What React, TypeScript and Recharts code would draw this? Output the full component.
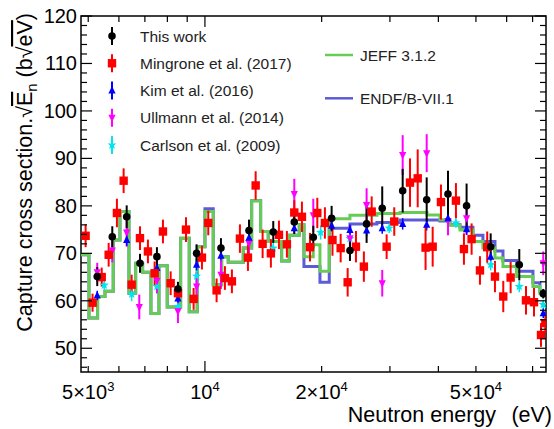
import React from 'react'
import { ComposedChart, Scatter, Line, XAxis, YAxis, ErrorBar, ReferenceArea, Legend } from 'recharts'

const FONT = '"Liberation Sans", Arial, Helvetica, sans-serif'
const PLOT_W = 465
const PLOT_H = 356

// This work (black circles)
const thisWorkE = [5275, 5768, 6283, 6799, 7519, 8519, 9517, 10998, 12990, 15004, 17000, 19030, 21220, 23660, 26120, 28660, 32360, 37320, 42350, 47300, 54570, 64680, 74570]
const thisWorkY = [65.1, 73.5, 77.7, 67.9, 69.3, 62.5, 70.0, 71.1, 74.8, 74.5, 76.6, 73.4, 77.4, 70.6, 76.2, 79.5, 83.2, 81.3, 82.5, 80.0, 71.4, 67.6, 61.5]
const thisWorkErr = [2.0, 2.2, 2.4, 2.0, 2.0, 1.5, 1.9, 2.1, 2.3, 2.3, 2.5, 2.4, 2.6, 2.2, 4.0, 4.6, 4.6, 4.7, 4.9, 4.7, 2.8, 3.3, 1.0]

// Mingrone et al. (2017) (red squares)
const mingroneE = [4923, 5131, 5417, 5645, 5929, 6170, 6471, 6799, 7128, 7417, 7793, 8158, 8519, 8935, 9350, 9824, 10200, 10717, 11260, 11737, 12310, 12910, 13515, 14085, 14794, 15520, 16270, 17000, 17790, 18660, 19490, 20390, 21330, 22390, 23340, 24520, 25700, 26920, 29420, 30780, 33800, 35380, 37070, 38670, 40620, 44400, 46560, 48730, 51210, 53460, 55980, 58810, 61440, 67300, 70580, 73590, 75500]
const mingroneY = [73.7, 59.6, 65.0, 69.7, 78.5, 85.3, 63.4, 73.2, 70.4, 65.8, 74.6, 63.7, 61.6, 75.0, 60.4, 69.1, 76.4, 62.2, 64.8, 64.1, 73.1, 69.1, 84.3, 72.0, 70.0, 73.9, 71.9, 78.6, 77.7, 71.3, 78.5, 76.4, 72.8, 71.1, 63.9, 71.4, 67.2, 78.8, 71.4, 76.7, 84.9, 85.8, 71.2, 71.4, 80.8, 81.1, 70.9, 73.0, 66.4, 71.3, 65.1, 60.9, 64.9, 60.1, 59.7, 52.8, 55.3]
const mingroneErr = [2.4, 1.9, 2.0, 2.5, 3.0, 2.6, 2.1, 2.5, 2.5, 2.5, 2.5, 2.5, 1.4, 2.6, 2.3, 2.5, 2.6, 2.5, 2.5, 2.5, 3.0, 2.8, 3.0, 3.0, 3.0, 3.0, 2.8, 2.6, 3.2, 3.0, 3.2, 3.3, 3.3, 3.0, 3.0, 3.3, 3.2, 3.2, 2.6, 3.0, 5.1, 6.1, 4.7, 4.2, 3.7, 3.7, 3.3, 3.3, 3.0, 3.3, 3.3, 3.3, 3.3, 3.0, 3.0, 2.5, 2.0]

// Kim et al. (2016) (blue triangles)
const kimE = [5275, 6283, 7519, 8519, 9517, 10998, 12990, 17000, 21220, 23660, 26120, 28660, 32360, 37320, 42350, 47300, 54570, 74570]
const kimY = [61.1, 72.8, 66.9, 60.5, 67.6, 69.5, 73.3, 75.3, 75.8, 74.9, 74.8, 75.3, 76.2, 76.0, 77.4, 75.1, 69.3, 57.4]
const kimErr = [1.0, 1.2, 1.0, 1.0, 1.2, 1.0, 1.2, 1.2, 1.2, 1.2, 1.2, 1.2, 1.2, 1.2, 1.2, 1.2, 1.0, 1.0]

// Ullmann et al. (2014) (magenta down triangles)
const ullmannE = [5275, 5768, 6283, 6771, 7519, 8519, 9517, 10998, 12990, 17000, 19030, 23660, 26120, 28660, 32360, 37320, 42350, 47300, 74570]
const ullmannY = [66.0, 70.6, 74.4, 58.7, 64.2, 57.8, 63.0, 65.5, 72.1, 82.5, 78.0, 73.2, 80.2, 63.7, 90.7, 91.1, 76.8, 77.4, 67.9]
const ullmannErr = [2.0, 2.5, 3.0, 2.6, 2.6, 2.5, 3.0, 3.0, 2.8, 3.2, 3.5, 2.8, 3.5, 2.8, 4.2, 4.0, 3.0, 3.5, 2.5]

// Carlson et al. (2009) (cyan stars)
const carlsonE = [5500, 6471, 7519, 8519, 9517, 15004, 19880, 23660, 29880, 44400, 54570, 64680, 74570]
const carlsonY = [63.3, 61.4, 63.0, 58.8, 65.2, 71.1, 74.4, 73.1, 75.3, 76.4, 67.6, 63.0, 59.2]
const carlsonErr = [1.0, 1.5, 1.5, 1.5, 1.5, 1.5, 1.5, 1.5, 1.0, 1.0, 1.2, 1.2, 1.0]

// evaluated libraries, bin lower edges (last entry closes the range)
const binE = [4788, 5022, 5287, 5523, 5800, 6036, 6368, 6627, 6907, 7256, 7610, 7994, 8656, 9110, 9553, 10000, 10505, 11043, 11484, 12555, 13198, 13921, 14564, 15771, 16498, 17509, 18004, 19026, 19800, 20923, 23660, 27770, 31840, 37380, 40370, 42840, 45480, 49120, 52120, 55980, 58710, 63680, 70150, 73110, 75800]
const jeffY = [69.7, 56.4, 60.9, 62.0, 72.8, 78.8, 61.6, 67.9, 66.0, 57.3, 67.4, 58.7, 73.2, 57.7, 71.4, 78.8, 63.4, 69.3, 68.1, 71.1, 81.1, 74.6, 72.5, 68.4, 73.8, 76.0, 69.3, 71.8, 66.2, 77.3, 78.0, 78.4, 78.6, 78.1, 77.1, 75.9, 74.9, 72.5, 71.1, 69.0, 67.2, 65.1, 63.0, 61.6, 61.6]
const endfY = [69.7, 56.4, 60.9, 62.0, 72.8, 78.8, 61.6, 67.9, 66.0, 57.3, 67.4, 58.7, 73.2, 57.7, 71.4, 79.4, 63.4, 69.3, 68.1, 71.1, 81.1, 74.6, 72.5, 68.4, 73.8, 76.0, 67.2, 67.2, 63.9, 75.3, 76.2, 76.5, 77.0, 77.0, 76.8, 76.0, 75.5, 73.8, 72.5, 70.5, 68.5, 66.2, 63.8, 62.0, 62.0]

// axes
const xTicks = [5000, 6000, 7000, 8000, 9000, 10000, 20000, 30000, 40000, 50000, 60000, 70000]
const xLabelValues = [5000, 10000, 20000, 50000]
const xLabelBase = ['5×10', '10', '2×10', '5×10']
const xLabelExp = ['3', '4', '4', '4']
const yTicks = [46, 48, 50, 52, 54, 56, 58, 60, 62, 64, 66, 68, 70, 72, 74, 76, 78, 80, 82, 84, 86, 88, 90, 92, 94, 96, 98, 100, 102, 104, 106, 108, 110, 112, 114, 116, 118, 120]

const legendNames = ['This work', 'Mingrone et al. (2017)', 'Kim et al. (2016)', 'Ullmann et al. (2014)', 'Carlson et al. (2009)']
const legendKinds = ['circle', 'square', 'up', 'down', 'star']
const legendColors = ['#000000', '#ff0000', '#0000ff', '#ff00ff', '#00e5ee']
const modelNames = ['JEFF 3.1.2', 'ENDF/B-VII.1']
const modelColors = ['#66cc55', '#5c5cd6']

const toPoints = (e: number[], y: number[], err: number[]) => e.map((v, i) => ({ e: v, y: y[i], err: err[i] }))
const toBins = (e: number[], y: number[]) => e.map((v, i) => ({ e: v, y: y[i] }))

const thisWork = toPoints(thisWorkE, thisWorkY, thisWorkErr)
const mingrone = toPoints(mingroneE, mingroneY, mingroneErr)
const kim = toPoints(kimE, kimY, kimErr)
const ullmann = toPoints(ullmannE, ullmannY, ullmannErr)
const carlson = toPoints(carlsonE, carlsonY, carlsonErr)
const jeff = toBins(binE, jeffY)
const endf = toBins(binE, endfY)

function marker(kind: string, cx: number, cy: number, color: string) {
  if (cx == null || cy == null) return <g />
  switch (kind) {
    case 'square':
      return <rect x={cx - 4.2} y={cy - 4.2} width={8.4} height={8.4} fill={color} />
    case 'up':
      return <polygon points={`${cx},${cy - 4.5} ${cx - 3.6},${cy + 3} ${cx + 3.6},${cy + 3}`} fill={color} />
    case 'down':
      return <polygon points={`${cx},${cy + 4.5} ${cx - 3.6},${cy - 3} ${cx + 3.6},${cy - 3}`} fill={color} />
    case 'star': {
      const pts: string[] = []
      for (let k = 0; k < 10; k++) {
        const r = k % 2 === 0 ? 4.8 : 2
        const a = -Math.PI / 2 + (k * Math.PI) / 5
        pts.push(`${cx + r * Math.cos(a)},${cy + r * Math.sin(a)}`)
      }
      return <polygon points={pts.join(' ')} fill={color} />
    }
    default:
      return <circle cx={cx} cy={cy} r={3.8} fill={color} />
  }
}

const XTick = (props: any) => {
  const { x, y, payload } = props
  const v = payload.value
  const len = v === 10000 ? 11 : 6
  const idx = xLabelValues.indexOf(v)
  return (
    <g>
      <line x1={x} x2={x} y1={y} y2={y - len} stroke="#000" strokeWidth={1.2} />
      <line x1={x} x2={x} y1={y - PLOT_H} y2={y - PLOT_H + len} stroke="#000" strokeWidth={1.2} />
      {idx >= 0 && (
        <text x={x} y={y + 27} textAnchor="middle" fontSize={20} fontFamily={FONT} fill="#000">
          {xLabelBase[idx]}
          <tspan dy={-8} fontSize={13}>{xLabelExp[idx]}</tspan>
        </text>
      )}
    </g>
  )
}

const YTick = (props: any) => {
  const { x, y, payload } = props
  const v = payload.value
  const major = v % 10 === 0
  const len = major ? 11 : 6
  return (
    <g>
      <line x1={x} x2={x + len} y1={y} y2={y} stroke="#000" strokeWidth={1.2} />
      <line x1={x + PLOT_W} x2={x + PLOT_W - len} y1={y} y2={y} stroke="#000" strokeWidth={1.2} />
      {major && (
        <text x={x - 4} y={y + 7} textAnchor="end" fontSize={20} fontFamily={FONT} fill="#000">
          {v}
        </text>
      )}
    </g>
  )
}

const XTitle = (props: any) => {
  const vb = props.viewBox || { x: 81, y: 372, width: PLOT_W }
  const right = vb.x + vb.width
  return (
    <g fontFamily={FONT} fontSize={21.5} fill="#000">
      <text x={right - 50} y={vb.y + 50} textAnchor="end">Neutron energy</text>
      <text x={right + 6} y={vb.y + 50} textAnchor="end">(eV)</text>
    </g>
  )
}

const YTitle = () => {
  const ax = 32
  const ay = 13
  return (
    <text
      x={ax}
      y={ay}
      transform={`rotate(-90, ${ax}, ${ay})`}
      textAnchor="end"
      fontFamily={FONT}
      fontSize={21.5}
      fill="#000"
    >
      Capture cross section.√<tspan textDecoration="overline">E</tspan>
      <tspan dy={5} fontSize={15}>n</tspan>
      <tspan dy={-5}> (b√</tspan>
      <tspan textDecoration="overline">eV</tspan>)
    </text>
  )
}

const renderLegend = () => (
  <svg width={554} height={170} style={{ overflow: 'visible' }}>
    {legendNames.map((name, i) => {
      const y = 36 + i * 27.25
      return (
        <g key={name}>
          <line x1={112} x2={112} y1={y - 9} y2={y + 9} stroke={legendColors[i]} strokeWidth={2} />
          {marker(legendKinds[i], 112, y, legendColors[i])}
          <text x={140} y={y + 5.5} fontSize={15.5} fontFamily={FONT} fill="#222">{name}</text>
        </g>
      )
    })}
    {modelNames.map((name, i) => {
      const y = 55 + i * 43.3
      return (
        <g key={name}>
          <line x1={325} x2={353} y1={y} y2={y} stroke={modelColors[i]} strokeWidth={2.5} />
          <text x={360} y={y + 5.5} fontSize={15.5} fontFamily={FONT} fill="#222">{name}</text>
        </g>
      )
    })}
  </svg>
)

export default function App() {
  return (
    <div style={{ position: 'absolute', left: 0, top: 0, background: '#fff' }}>
      <ComposedChart width={554} height={429} margin={{ top: 16, right: 8, bottom: 17, left: 0 }}>
        <XAxis
          dataKey="e"
          type="number"
          scale="log"
          domain={[4790, 75800]}
          allowDataOverflow
          ticks={xTicks}
          interval={0}
          height={40}
          tickSize={0}
          tickMargin={0}
          axisLine={false}
          tickLine={false}
          tick={<XTick />}
          label={<XTitle />}
        />
        <YAxis
          dataKey="y"
          type="number"
          domain={[45, 120]}
          allowDataOverflow
          ticks={yTicks}
          interval={0}
          width={81}
          tickSize={0}
          tickMargin={0}
          axisLine={false}
          tickLine={false}
          tick={<YTick />}
          label={<YTitle />}
        />
        <Legend
          layout="horizontal"
          verticalAlign="middle"
          align="center"
          content={renderLegend}
          wrapperStyle={{ position: 'absolute', left: 0, top: 0, width: 554, height: 170, pointerEvents: 'none' }}
        />
        <Line data={endf} dataKey="y" type="stepAfter" stroke={modelColors[1]} strokeWidth={3} dot={false} isAnimationActive={false} />
        <Line data={jeff} dataKey="y" type="stepAfter" stroke={modelColors[0]} strokeWidth={3} dot={false} isAnimationActive={false} />
        <Scatter data={carlson} dataKey="y" isAnimationActive={false} shape={(p: any) => marker('star', p.cx, p.cy, legendColors[4])}>
          <ErrorBar dataKey="err" direction="y" width={0} stroke={legendColors[4]} strokeWidth={1.5} />
        </Scatter>
        <Scatter data={ullmann} dataKey="y" isAnimationActive={false} shape={(p: any) => marker('down', p.cx, p.cy, legendColors[3])}>
          <ErrorBar dataKey="err" direction="y" width={0} stroke={legendColors[3]} strokeWidth={2} />
        </Scatter>
        <Scatter data={kim} dataKey="y" isAnimationActive={false} shape={(p: any) => marker('up', p.cx, p.cy, legendColors[2])}>
          <ErrorBar dataKey="err" direction="y" width={0} stroke={legendColors[2]} strokeWidth={1.5} />
        </Scatter>
        <Scatter data={mingrone} dataKey="y" isAnimationActive={false} shape={(p: any) => marker('square', p.cx, p.cy, legendColors[1])}>
          <ErrorBar dataKey="err" direction="y" width={0} stroke={legendColors[1]} strokeWidth={2} />
        </Scatter>
        <Scatter data={thisWork} dataKey="y" isAnimationActive={false} shape={(p: any) => marker('circle', p.cx, p.cy, legendColors[0])}>
          <ErrorBar dataKey="err" direction="y" width={0} stroke={legendColors[0]} strokeWidth={2} />
        </Scatter>
        <ReferenceArea x1={4790} x2={75800} y1={45} y2={120} fill="none" stroke="#000" strokeWidth={1.5} />
      </ComposedChart>
    </div>
  )
}
